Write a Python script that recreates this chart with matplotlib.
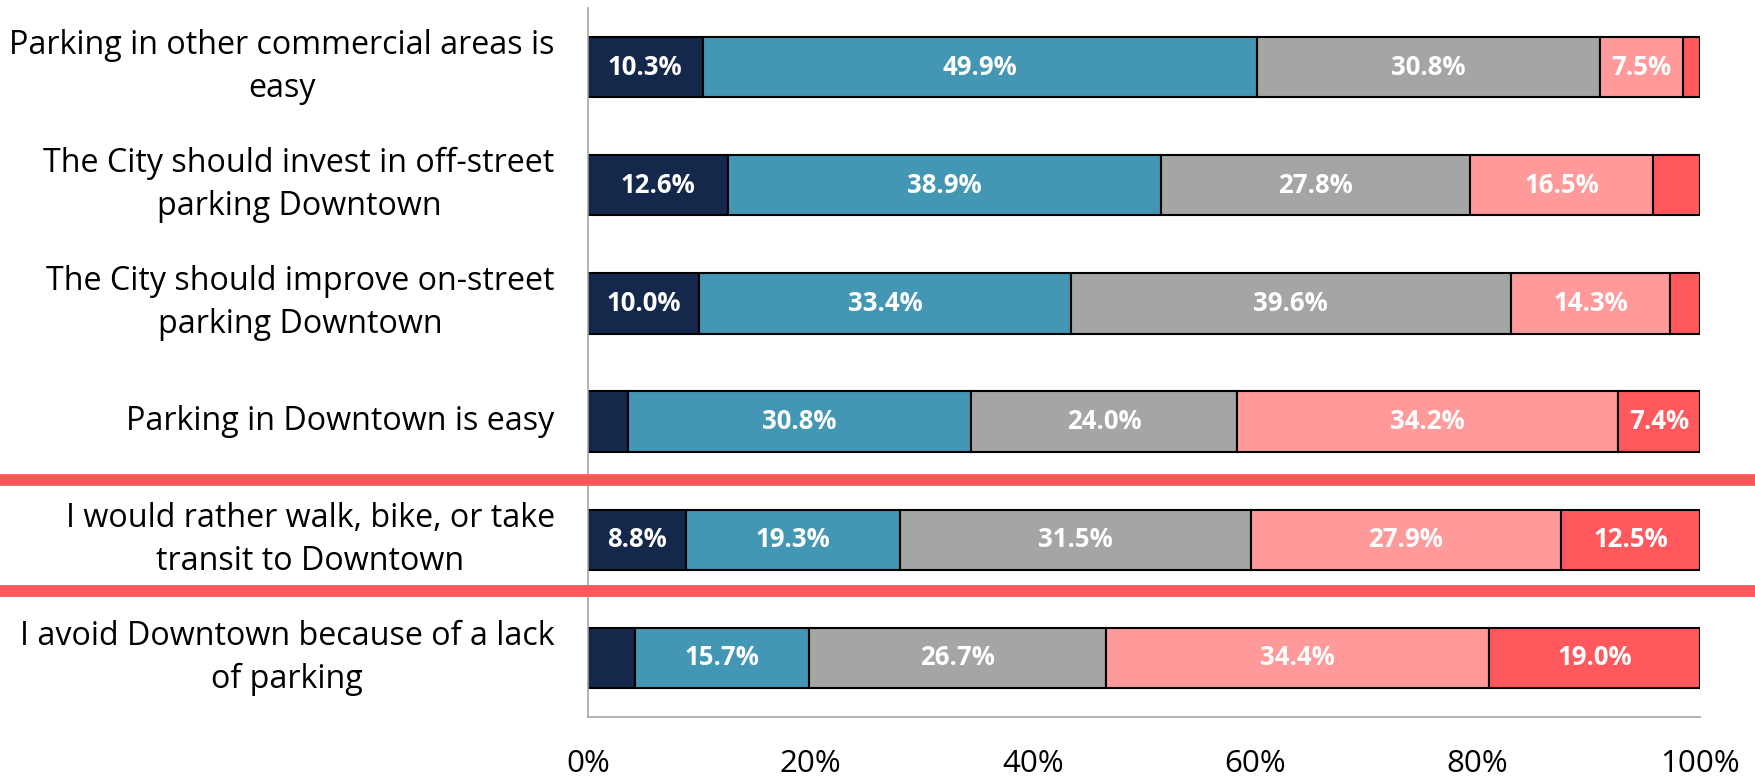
import matplotlib
matplotlib.use("Agg")
import matplotlib.pyplot as plt
from matplotlib.lines import Line2D
import numpy as np

plt.rcParams['font.family'] = ['Open Sans', 'DejaVu Sans']

categories = [
    "Parking in other commercial areas is\neasy",
    "The City should invest in off-street\nparking Downtown",
    "The City should improve on-street\nparking Downtown",
    "Parking in Downtown is easy",
    "I would rather walk, bike, or take\ntransit to Downtown",
    "I avoid Downtown because of a lack\nof parking",
]

strongly_agree    = [10.3, 12.6, 10.0, 3.6, 8.8, 4.2]
agree             = [49.9, 38.9, 33.4, 30.8, 19.3, 15.7]
neutral           = [30.8, 27.8, 39.6, 24.0, 31.5, 26.7]
disagree          = [7.5, 16.5, 14.3, 34.2, 27.9, 34.4]
strongly_disagree = [1.5, 4.2, 2.7, 7.4, 12.5, 19.0]

series = [strongly_agree, agree, neutral, disagree, strongly_disagree]
colors = ["#14284B", "#4397B5", "#A5A5A5", "#FF999A", "#FF585D"]

x_ticks = [0, 20, 40, 60, 80, 100]
x_ticklabels = ["0%", "20%", "40%", "60%", "80%", "100%"]

fig = plt.figure(figsize=(17.56, 7.77), dpi=100)
ax = fig.add_axes([588 / 1756, 1 - 717 / 777, (1700 - 588) / 1756, (717 - 8) / 777])

y = np.arange(len(categories))
left = np.zeros(len(categories))
for vals, col in zip(series, colors):
    vals = np.array(vals)
    ax.barh(y, vals, left=left, height=0.51, color=col, edgecolor="black", linewidth=1.5)
    for yi, (l, v) in enumerate(zip(left, vals)):
        if v >= 5:
            ax.text(l + v / 2, yi, f"{v:.1f}%", ha="center", va="center",
                    color="white", fontsize=18.5, fontweight="bold")
    left += vals

ax.set_ylim(len(categories) - 0.5, -0.5)
ax.set_xlim(0, 100)
ax.set_yticks(y)
ax.set_yticklabels(categories, fontsize=23.2, linespacing=1.4)
for lab in ax.get_yticklabels():
    lab.set_multialignment("center")
    lab.set_verticalalignment("center")
ax.set_xticks(x_ticks)
ax.set_xticklabels(x_ticklabels, fontsize=22.5)
ax.tick_params(axis="both", length=0)
ax.tick_params(axis="y", pad=24)
ax.tick_params(axis="x", pad=23)

for s in ["top", "right"]:
    ax.spines[s].set_visible(False)
for s in ["left", "bottom"]:
    ax.spines[s].set_color("#A6A6A6")
    ax.spines[s].set_linewidth(1.2)

# separators around the highlighted statement
for yf in [480, 591]:
    fig.add_artist(Line2D([0, 1], [1 - yf / 777, 1 - yf / 777], transform=fig.transFigure,
                          color="#FF585D", linewidth=8.5, solid_capstyle="butt"))

fig.savefig("out.png", dpi=100)
